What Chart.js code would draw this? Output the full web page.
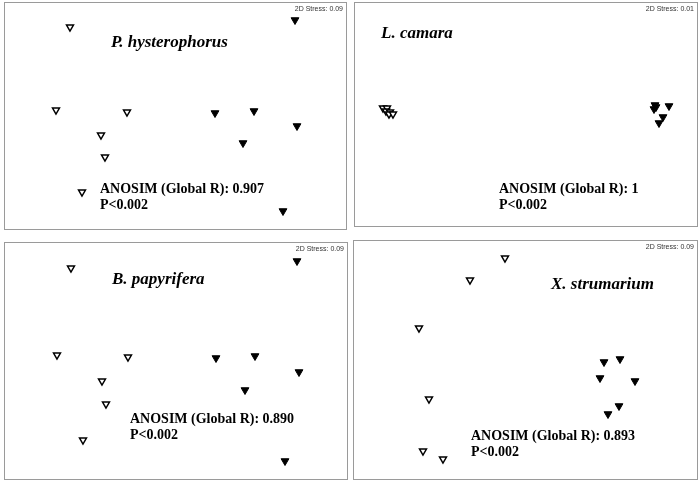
<!DOCTYPE html>
<html>
<head>
<meta charset="utf-8">
<script src="https://cdn.jsdelivr.net/npm/chart.js@4/dist/chart.umd.min.js"></script>
<style>
  body { margin: 0; background: #fff; width: 699px; height: 486px; position: relative; overflow: hidden; }
  .panel { position: absolute; border: 1px solid #9a9a9a; box-sizing: border-box; }
  .panel canvas { position: absolute; left: 0; top: 0; }
</style>
</head>
<body>
<div class="panel" id="p0" style="left:4px;top:2px;width:343px;height:228px"><canvas id="c0"></canvas></div>
<div class="panel" id="p1" style="left:354px;top:2px;width:344px;height:225px"><canvas id="c1"></canvas></div>
<div class="panel" id="p2" style="left:4px;top:242px;width:344px;height:238px"><canvas id="c2"></canvas></div>
<div class="panel" id="p3" style="left:353px;top:240px;width:345px;height:240px"><canvas id="c3"></canvas></div>
<script>
// NMDS scores (arbitrary ordination units)
var species = ['P. hysterophorus', 'L. camara', 'B. papyrifera', 'X. strumarium'];
var stress = ['0.09', '0.01', '0.09', '0.09'];
var globalR = ['0.907', '1', '0.890', '0.893'];
var pValue = ['P<0.002', 'P<0.002', 'P<0.002', 'P<0.002'];

// open triangles (group 1)
var openPts = [
    [[65, 202], [51, 119], [122, 117], [96, 94], [100, 72], [77, 37]],
    [[28, 118], [32, 118], [31, 115], [35, 114], [34, 112], [38, 112]],
    [[66, 211], [52, 124], [123, 122], [97, 98], [101, 75], [78, 39]],
    [[151, 221], [116, 199], [65, 151], [75, 80], [69, 28], [89, 20]]
];
// filled triangles (group 2)
var filledPts = [
    [[290, 209], [210, 116], [249, 118], [292, 103], [238, 86], [278, 18]],
    [[300, 121], [299, 117], [301, 119], [314, 120], [308, 109], [304, 103]],
    [[292, 218], [211, 121], [250, 123], [294, 107], [240, 89], [280, 18]],
    [[250, 117], [266, 120], [246, 101], [281, 98], [265, 73], [254, 65]]
];

// text placement inside each panel (px from top-left)
var titlePos = [[106, 40], [26, 31], [107, 37], [197, 44]];
var anosimPos = [[95, 186], [144, 186], [125, 176], [117, 195]];

function toXY(arr) {
    return arr.map(function (p) { return { x: p[0], y: p[1] }; });
}

var textPlugin = {
    id: 'panelText',
    afterDraw: function (chart) {
        var i = chart.options.plugins.panelText.idx;
        var ctx = chart.ctx;
        var w = chart.width;
        ctx.save();
        ctx.fillStyle = '#000';
        ctx.textBaseline = 'middle';
        ctx.textAlign = 'left';
        ctx.font = 'italic bold 17px "Liberation Serif", "Times New Roman", serif';
        ctx.fillText(species[i], titlePos[i][0], titlePos[i][1]);
        ctx.font = 'bold 14px "Liberation Serif", "Times New Roman", serif';
        ctx.fillText('ANOSIM (Global R): ' + globalR[i], anosimPos[i][0], anosimPos[i][1]);
        ctx.fillText(pValue[i], anosimPos[i][0], anosimPos[i][1] + 16);
        ctx.font = '7px "Liberation Sans", Arial, sans-serif';
        ctx.fillStyle = '#333';
        ctx.textAlign = 'right';
        ctx.fillText('2D Stress: ' + stress[i], w - 3, 6);
        ctx.restore();
    }
};

for (var i = 0; i < 4; i++) {
    var panel = document.getElementById('p' + i);
    var W = panel.clientWidth, H = panel.clientHeight;
    var cv = document.getElementById('c' + i);
    cv.width = W; cv.height = H;
    new Chart(cv, {
        type: 'scatter',
        data: {
            datasets: [{
                data: toXY(openPts[i]),
                pointStyle: 'triangle',
                rotation: 180,
                pointRadius: 4,
                backgroundColor: '#fff',
                borderColor: '#000',
                borderWidth: 1.5
            }, {
                data: toXY(filledPts[i]),
                pointStyle: 'triangle',
                rotation: 180,
                pointRadius: 4.5,
                backgroundColor: '#000',
                borderColor: '#000',
                borderWidth: 1
            }]
        },
        options: {
            responsive: false,
            animation: false,
            events: [],
            layout: { padding: 0, autoPadding: false },
            scales: {
                x: { display: false, min: 0, max: W },
                y: { display: false, min: 0, max: H }
            },
            plugins: {
                legend: { display: false },
                tooltip: { enabled: false },
                panelText: { idx: i }
            }
        },
        plugins: [textPlugin]
    });
}
</script>
</body>
</html>
